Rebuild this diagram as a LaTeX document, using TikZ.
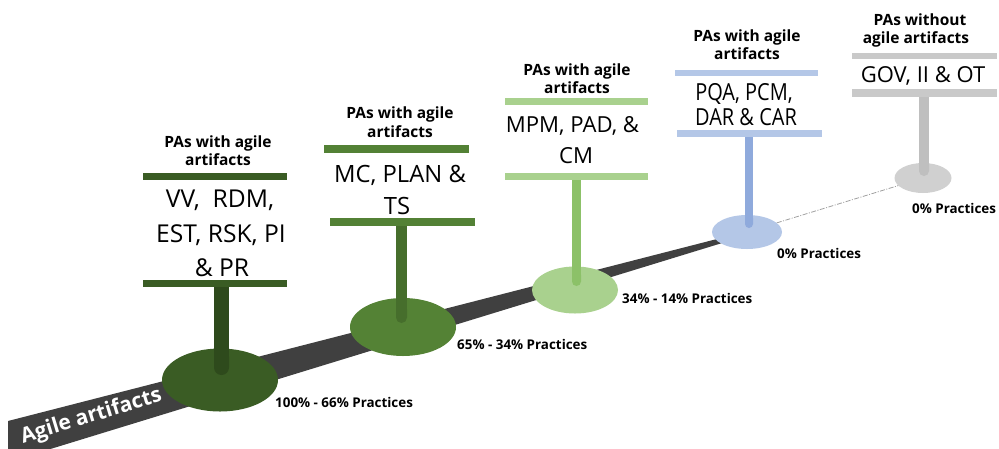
\documentclass[tikz,border=0pt]{standalone}
\usepackage{fontspec}
\setmainfont{Open Sans}
\newfontfamily\tallfont[FakeStretch=0.85]{Open Sans}
\usetikzlibrary{shapes.geometric,arrows.meta}
\definecolor{bandc}{HTML}{404040}
\definecolor{dashc}{HTML}{A0A0A0}
\definecolor{ea}{HTML}{3A5C24}\definecolor{sa}{HTML}{2E4A1C}\definecolor{ba}{HTML}{3A5C24}
\definecolor{eb}{HTML}{548235}\definecolor{sb}{HTML}{466E2C}\definecolor{bb}{HTML}{538135}
\definecolor{ec}{HTML}{A9D18E}\definecolor{sc}{HTML}{8CC168}\definecolor{bc}{HTML}{A9D18E}
\definecolor{ed}{HTML}{B4C7E7}\definecolor{sd}{HTML}{8FAADC}\definecolor{bd}{HTML}{B4C7E7}
\definecolor{ee}{HTML}{D0D0D0}\definecolor{se}{HTML}{BFBFBF}\definecolor{be}{HTML}{C9C9C9}
\begin{document}
\begin{tikzpicture}[x=1pt,y=-1pt,
  disk/.style={ellipse,draw=none,inner sep=0pt},
  barbox/.style={rectangle,draw=none,inner sep=0pt},
  stem/.style={line cap=butt,-{Round Cap[]}},
  head/.style={anchor=base,inner sep=0pt,font=\fontsize{15.5}{18}\selectfont\bfseries},
  big/.style={anchor=base,inner sep=0pt},
  pct/.style={anchor=base west,inner sep=0pt,font=\fontsize{13.4}{16}\selectfont\bfseries},
  dashline/.style={draw=dashc,line width=0.8pt,dash pattern=on 5pt off 1.5pt on 1pt off 1.5pt}]
\useasboundingbox (0,0) rectangle (999,448);
% band
\begin{scope}
\clip (0,0) rectangle (999,448);
\fill[bandc] (8,421) -- (745,231.8) -- (745,236) -- (8,462) -- cycle;
\end{scope}
\node[anchor=base,inner sep=0pt,rotate=17,text=white,font=\fontsize{21}{24}\selectfont\bfseries] (band) at (93,422) {Agile artifacts};
% disks
\node[disk,fill=ea,minimum width=116pt,minimum height=63pt] (e1) at (220,380) {};
\node[disk,fill=eb,minimum width=106pt,minimum height=58pt] (e2) at (403,327) {};
\node[disk,fill=ec,minimum width=86pt,minimum height=47pt] (e3) at (575,290) {};
\node[disk,fill=ed,minimum width=70pt,minimum height=34pt] (e4) at (747,232) {};
\node[disk,fill=ee,minimum width=57pt,minimum height=30pt] (e5) at (923,178) {};
\draw[dashline] (e4) -- (e5);
% bars
\node[barbox,fill=ba,minimum width=144pt,minimum height=7pt] (b1t) at (215,176.5) {};
\node[barbox,fill=ba,minimum width=144pt,minimum height=7pt] (b1b) at (215,283.5) {};
\node[barbox,fill=bb,minimum width=145pt,minimum height=8pt] (b2t) at (396.5,149) {};
\node[barbox,fill=bb,minimum width=145pt,minimum height=8pt] (b2b) at (402.5,221.5) {};
\node[barbox,fill=bc,minimum width=143pt,minimum height=7pt] (b3t) at (576.5,101.5) {};
\node[barbox,fill=bc,minimum width=143pt,minimum height=7pt] (b3b) at (576.5,176.5) {};
\node[barbox,fill=bd,minimum width=143pt,minimum height=6pt] (b4t) at (746.5,72.5) {};
\node[barbox,fill=bd,minimum width=145pt,minimum height=7pt] (b4b) at (749.5,133.5) {};
\node[barbox,fill=be,minimum width=145pt,minimum height=6.5pt] (b5t) at (924.5,56) {};
\node[barbox,fill=be,minimum width=145pt,minimum height=8pt] (b5b) at (924.5,93) {};
% stems
\coordinate (s1) at (221.5,375);
\coordinate (s2) at (401.5,323);
\coordinate (s3) at (576.5,286);
\coordinate (s4) at (749,228);
\coordinate (s5) at (924,176);
\draw[stem,sa,line width=15pt] (b1b.south -| s1) -- (s1);
\draw[stem,sb,line width=11pt] (b2b.south -| s2) -- (s2);
\draw[stem,sc,line width=9pt] (b3b.south -| s3) -- (s3);
\draw[stem,sd,line width=8pt] (b4b.south -| s4) -- (s4);
\draw[stem,se,line width=10pt] (b5b.south -| s5) -- (s5);
% headers
\node[head] (h1a) at (218,147) {PAs with agile};
\node[head] (h1b) at (218,165) {artifacts};
\node[head] (h2a) at (400,118) {PAs with agile};
\node[head] (h2b) at (400,137) {artifacts};
\node[head] (h3a) at (577,75) {PAs with agile};
\node[head] (h3b) at (577,93) {artifacts};
\node[head] (h4a) at (747,41) {PAs with agile};
\node[head] (h4b) at (747,59) {artifacts};
\node[head] (h5a) at (920,25) {PAs without};
\node[head] (h5b) at (916,43) {agile artifacts};
% process areas
\node[big,font=\fontsize{24.6}{30}\selectfont] (t1a) at (220,207) {VV,\ \ RDM,};
\node[big,font=\fontsize{24.6}{30}\selectfont] (t1b) at (221,242) {EST, RSK, PI};
\node[big,font=\fontsize{24.6}{30}\selectfont] (t1c) at (222,276) {\& PR};
\node[big,font=\fontsize{23.8}{30}\selectfont] (t2a) at (400,182) {MC, PLAN \&};
\node[big,font=\fontsize{23.8}{30}\selectfont] (t2b) at (397,214) {TS};
\node[big,font=\fontsize{22.1}{28}\selectfont] (t3a) at (572.5,132) {MPM, PAD, \&};
\node[big,font=\fontsize{22.1}{28}\selectfont] (t3b) at (576,163) {CM};
\node[big,font=\tallfont\fontsize{23.5}{28}\selectfont] (t4a) at (744,100) {PQA, PCM,};
\node[big,font=\tallfont\fontsize{23.5}{28}\selectfont] (t4b) at (746,125) {DAR \& CAR};
\node[big,font=\fontsize{22}{26}\selectfont] (t5a) at (923,82) {GOV, II \& OT};
% percentages
\node[pct] (p1) at (275,407) {100\% - 66\% Practices};
\node[pct] (p2) at (457,349) {65\% - 34\% Practices};
\node[pct] (p3) at (622,303) {34\% - 14\% Practices};
\node[pct] (p4) at (777,258) {0\% Practices};
\node[pct] (p5) at (912,213) {0\% Practices};
\end{tikzpicture}
\end{document}
